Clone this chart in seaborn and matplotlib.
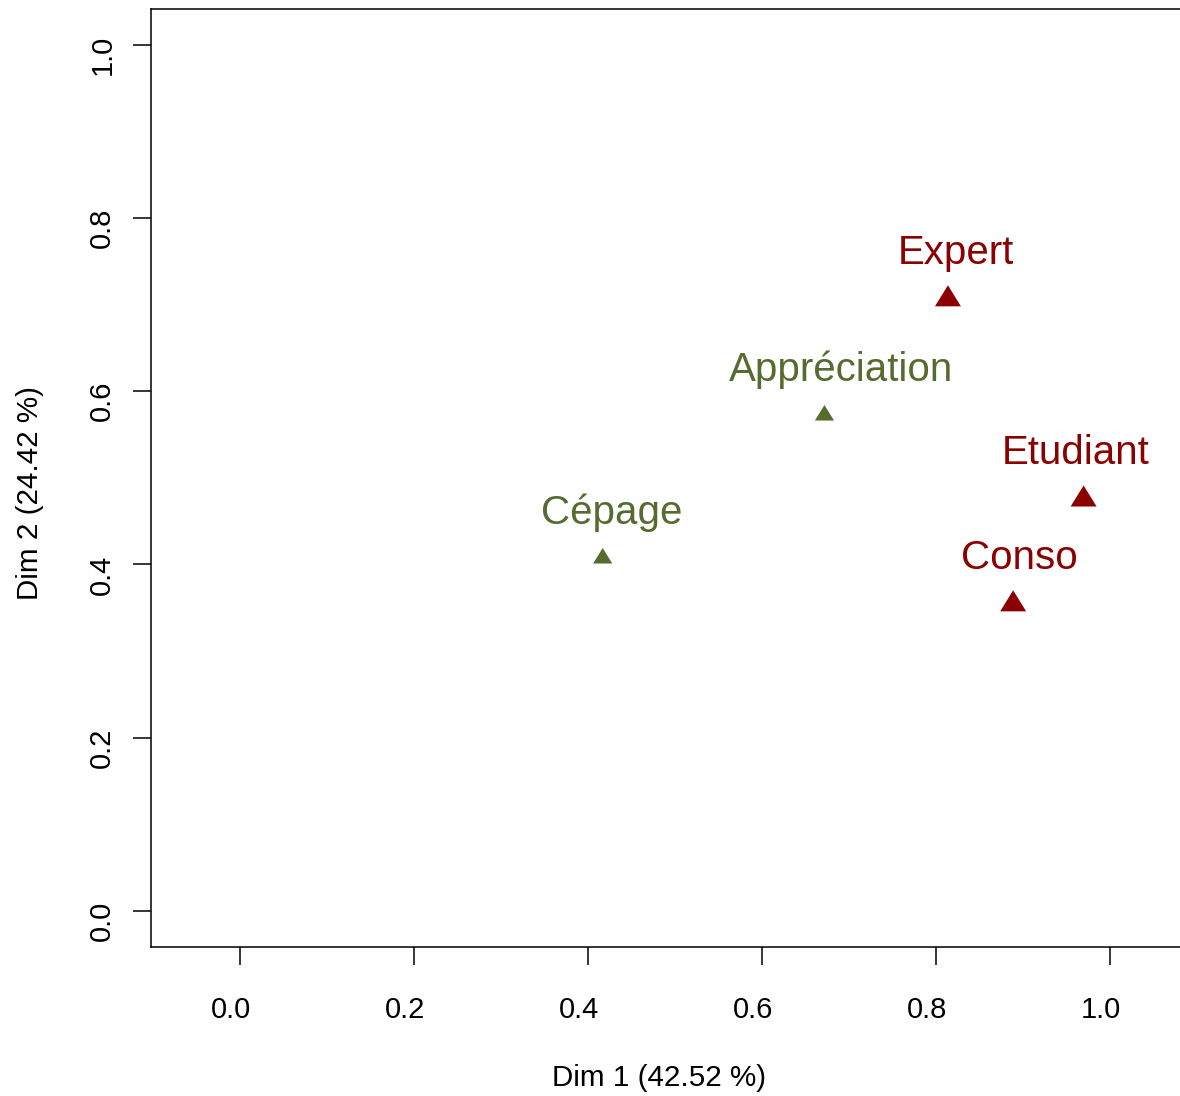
import matplotlib
matplotlib.use("Agg")
import matplotlib.pyplot as plt
from matplotlib.transforms import ScaledTranslation
import seaborn as sns
import pandas as pd

# Data
labels = ["Expert", "Etudiant", "Conso", "Appréciation", "Cépage"]
dim1 = [0.814, 0.970, 0.889, 0.672, 0.417]
dim2 = [0.710, 0.479, 0.358, 0.575, 0.410]
groups = ["groupe", "groupe", "groupe", "variable", "variable"]
xticks = [0.0, 0.2, 0.4, 0.6, 0.8, 1.0]
yticks = [0.0, 0.2, 0.4, 0.6, 0.8, 1.0]
xlabel = "Dim 1 (42.52 %)"
ylabel = "Dim 2 (24.42 %)"

# label horizontal nudges (pixels)
label_dx = [8, -8, 6, 17, 9]

colors = {"groupe": "#8B0000", "variable": "#556B2F"}
sizes = {"groupe": 350, "variable": 190}

df = pd.DataFrame({"x": dim1, "y": dim2, "g": groups, "lab": labels})

sns.set_theme(style="white")
plt.rcParams["font.family"] = ["Liberation Sans", "DejaVu Sans"]

fig = plt.figure(figsize=(11.8, 10.96), dpi=100)
ax = fig.add_axes([151 / 1180, 149 / 1096, 1040 / 1180, 938 / 1096])

tri = [(0, 0.81), (-1, -0.81), (1, -0.81)]
sns.scatterplot(data=df, x="x", y="y", hue="g", palette=colors, size="g",
                sizes=sizes, marker=tri, linewidth=0, legend=False, ax=ax)

for x, y, g, lab, dx in zip(dim1, dim2, groups, labels, label_dx):
    ax.annotate(lab, (x, y), xytext=(dx * 0.72, 23), textcoords="offset points",
                ha="center", va="baseline", color=colors[g], fontsize=29)

ax.set_xlim(-0.1024, 1.0935)
ax.set_ylim(-0.0415, 1.041)
ax.set_xticks(xticks)
ax.set_yticks(yticks)
ax.set_xticklabels([f"{v:.1f}" for v in xticks])
ax.set_yticklabels([f"{v:.1f}" for v in yticks], rotation=90, va="center")
ax.tick_params(axis="both", which="both", direction="out", length=13, width=1.1,
               color="black", labelsize=21, labelcolor="black", left=True, bottom=True)
ax.tick_params(axis="x", pad=22)
ax.tick_params(axis="y", pad=12)

for lbl in ax.get_xticklabels():
    lbl.set_transform(lbl.get_transform() + ScaledTranslation(-9 / 100, 0, fig.dpi_scale_trans))
for lbl in ax.get_yticklabels():
    lbl.set_transform(lbl.get_transform() + ScaledTranslation(0, -10 / 100, fig.dpi_scale_trans))

ax.set_xlabel(xlabel, fontsize=21.3, color="black", va="center", ha="center")
ax.set_ylabel(ylabel, fontsize=21.3, color="black", va="center", ha="center")
ax.xaxis.set_label_coords((659 - 151) / 1040, (947 - 1078) / 938)
ax.yaxis.set_label_coords((30 - 151) / 1040, (947 - 493) / 938)

for s in ax.spines.values():
    s.set_color("black")
    s.set_linewidth(1.1)
    s.set_visible(True)
ax.spines["right"].set_visible(False)

fig.savefig("out.png", dpi=100, facecolor="white")
